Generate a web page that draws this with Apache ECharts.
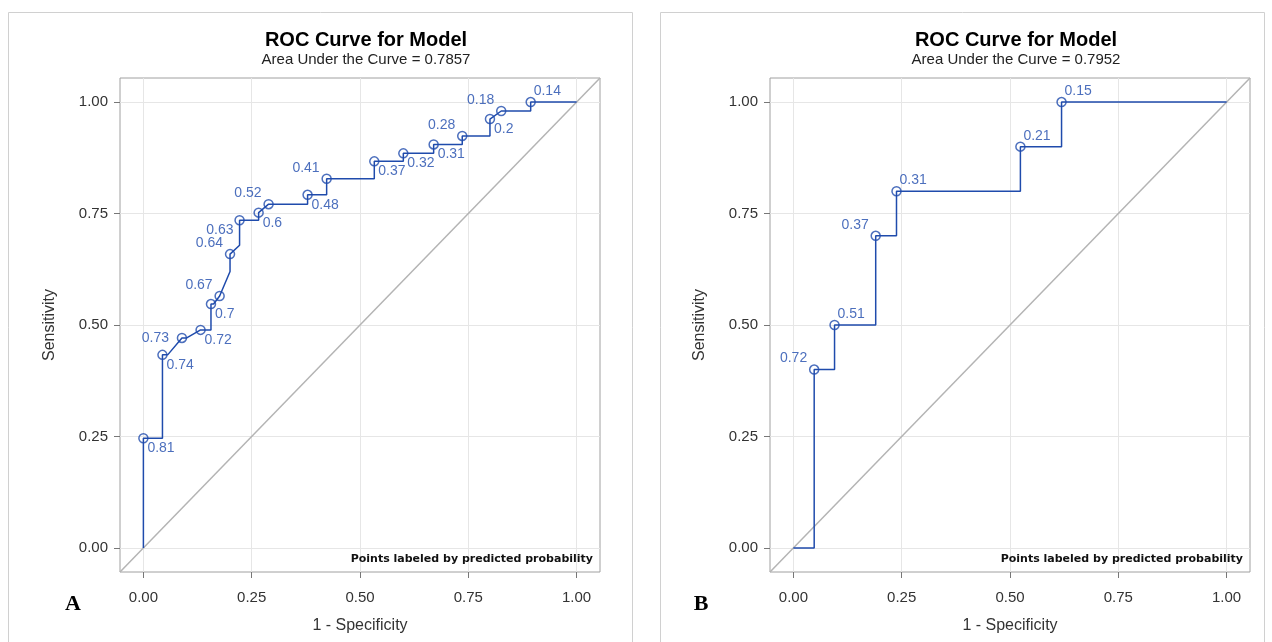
<!DOCTYPE html>
<html>
<head>
<meta charset="utf-8">
<title>ROC Curve for Model</title>
<script src="https://cdn.jsdelivr.net/npm/echarts@6/dist/echarts.min.js"></script>
<style>
  html, body { margin: 0; padding: 0; background: #fff; }
  #main { width: 1272px; height: 642px; }
</style>
</head>
<body>
<div id="main"></div>
<script>
// axis ticks, shared by both panels
const tickValues = [0, 0.25, 0.5, 0.75, 1];

// panel A : step curve vertices [1 - specificity, sensitivity]
const curveA = [
  [0, 0], [0, 0.246], [0.044, 0.246], [0.044, 0.433], [0.056, 0.433],
  [0.089, 0.471], [0.1, 0.471], [0.132, 0.489], [0.156, 0.489], [0.156, 0.547],
  [0.162, 0.547], [0.176, 0.565], [0.2, 0.62], [0.2, 0.659], [0.222, 0.679],
  [0.222, 0.735], [0.266, 0.735], [0.266, 0.752], [0.289, 0.771], [0.379, 0.771],
  [0.379, 0.792], [0.423, 0.792], [0.423, 0.828], [0.533, 0.828], [0.533, 0.867],
  [0.6, 0.867], [0.6, 0.885], [0.67, 0.885], [0.67, 0.905], [0.736, 0.905],
  [0.736, 0.924], [0.8, 0.924], [0.8, 0.962], [0.826, 0.98], [0.894, 0.98],
  [0.894, 1], [1, 1]
];
// panel A : labelled cutoffs
const fprA = [0, 0.044, 0.089, 0.132, 0.156, 0.176, 0.2, 0.222, 0.266, 0.289,
  0.379, 0.423, 0.533, 0.6, 0.67, 0.736, 0.8, 0.826, 0.894];
const sensA = [0.246, 0.433, 0.471, 0.489, 0.547, 0.565, 0.659, 0.735, 0.752, 0.771,
  0.792, 0.828, 0.867, 0.885, 0.905, 0.924, 0.962, 0.98, 1];
const probA = ['0.81', '0.74', '0.73', '0.72', '0.7', '0.67', '0.64', '0.63', '0.6', '0.52',
  '0.48', '0.41', '0.37', '0.32', '0.31', '0.28', '0.2', '0.18', '0.14'];
const sideA = ['br', 'br', 'l', 'br', 'br', 'tl', 'tl', 'bl', 'br', 'tl',
  'br', 'tl', 'br', 'br', 'br', 'tl', 'br', 'tl', 'tr'];
const aucA = '0.7857';

// panel B
const curveB = [
  [0, 0], [0.048, 0], [0.048, 0.4], [0.095, 0.4], [0.095, 0.5], [0.19, 0.5],
  [0.19, 0.7], [0.238, 0.7], [0.238, 0.8], [0.524, 0.8], [0.524, 0.9],
  [0.619, 0.9], [0.619, 1], [1, 1]
];
const fprB = [0.048, 0.095, 0.19, 0.238, 0.524, 0.619];
const sensB = [0.4, 0.5, 0.7, 0.8, 0.9, 1];
const probB = ['0.72', '0.51', '0.37', '0.31', '0.21', '0.15'];
const sideB = ['tl', 'tr', 'tl', 'tr', 'tr', 'tr'];
const aucB = '0.7952';

const axisMin = -0.054;
const axisMax = 1.054;

const blue = '#1f4bac';
const font = '"Liberation Sans", Arial, sans-serif';

// where each point label sits around its marker
const labelPlace = {
  br: { align: 'left', offset: [4, 10] },
  tr: { align: 'left', offset: [3, -11] },
  tl: { align: 'right', offset: [-7, -11] },
  bl: { align: 'right', offset: [-6, 10] },
  l: { align: 'right', offset: [-13, 0] }
};

const myChart = echarts.init(document.getElementById('main'));

function makeAxes(idx, isX) {
  return {
    type: 'value',
    gridIndex: idx,
    min: axisMin,
    max: axisMax,
    name: isX ? '1 - Specificity' : 'Sensitivity',
    nameLocation: 'middle',
    nameGap: isX ? 46 : 62,
    nameTextStyle: { fontFamily: font, fontSize: 16, color: '#333' },
    axisLine: { show: false, onZero: false },
    axisTick: { show: true, length: 6, customValues: tickValues, lineStyle: { color: '#777', width: 1 } },
    axisLabel: {
      customValues: tickValues,
      margin: isX ? 18 : 12,
      fontFamily: font,
      fontSize: 15,
      color: '#333',
      formatter: v => v.toFixed(2)
    },
    splitLine: { show: true, lineStyle: { color: '#e6e6e6', width: 1 } }
  };
}

function pointData(fpr, sens, prob, side) {
  return fpr.map((x, i) => ({
    value: [x, sens[i]],
    name: prob[i],
    label: labelPlace[side[i]]
  }));
}

function panelSeries(idx, curve, fpr, sens, prob, side) {
  return [
    {
      type: 'line',
      xAxisIndex: idx,
      yAxisIndex: idx,
      data: [[axisMin, axisMin], [axisMax, axisMax]],
      symbol: 'none',
      silent: true,
      lineStyle: { color: '#b4b4b4', width: 1.5 },
      z: 2
    },
    {
      type: 'line',
      xAxisIndex: idx,
      yAxisIndex: idx,
      data: curve,
      symbol: 'none',
      lineStyle: { color: blue, width: 1.5 },
      z: 3
    },
    {
      type: 'scatter',
      xAxisIndex: idx,
      yAxisIndex: idx,
      data: pointData(fpr, sens, prob, side),
      symbol: 'circle',
      symbolSize: 9,
      itemStyle: { color: 'rgba(255,255,255,0)', borderColor: blue, borderWidth: 1.5 },
      label: {
        show: true,
        position: 'inside',
        verticalAlign: 'middle',
        formatter: p => p.name,
        fontFamily: font,
        fontSize: 14,
        color: blue
      },
      z: 4
    }
  ];
}

function titleFor(cx, auc) {
  return {
    text: 'ROC Curve for Model',
    subtext: 'Area Under the Curve = ' + auc,
    left: cx,
    top: 25,
    textAlign: 'center',
    itemGap: 2,
    textStyle: { fontFamily: font, fontSize: 20, fontWeight: 'bold', color: '#000', lineHeight: 20 },
    subtextStyle: { fontFamily: font, fontSize: 15, color: '#222', lineHeight: 16 }
  };
}

function panelGraphics(x0, w, letter, letterX, plotRight) {
  return [
    {
      type: 'rect',
      shape: { x: x0 + 0.5, y: 12.5, width: w, height: 660 },
      style: { fill: 'none', stroke: '#d0d0d0', lineWidth: 1 },
      silent: true
    },
    {
      type: 'text',
      x: letterX,
      y: 604,
      style: {
        text: letter,
        font: 'bold 22px "Liberation Serif", "Times New Roman", serif',
        fill: '#000',
        align: 'center',
        verticalAlign: 'middle'
      }
    },
    {
      type: 'text',
      x: plotRight - 7,
      y: 559,
      z: 10,
      style: {
        text: 'Points labeled by predicted probability',
        font: 'bold 11px "DejaVu Sans", sans-serif',
        fill: '#111',
        align: 'right',
        verticalAlign: 'middle'
      }
    }
  ];
}

const option = {
  backgroundColor: '#fff',
  animation: false,
  title: [titleFor(361, aucA), titleFor(1011, aucB)],
  grid: [
    { left: 120, top: 78, width: 480, height: 494, show: true, borderColor: '#a0a0a0', borderWidth: 1, backgroundColor: 'transparent' },
    { left: 770, top: 78, width: 480, height: 494, show: true, borderColor: '#a0a0a0', borderWidth: 1, backgroundColor: 'transparent' }
  ],
  xAxis: [makeAxes(0, true), makeAxes(1, true)],
  yAxis: [makeAxes(0, false), makeAxes(1, false)],
  series: [
    ...panelSeries(0, curveA, fprA, sensA, probA, sideA),
    ...panelSeries(1, curveB, fprB, sensB, probB, sideB)
  ],
  graphic: [
    ...panelGraphics(8, 624, 'A', 73, 600),
    ...panelGraphics(660, 604, 'B', 701, 1250)
  ]
};

myChart.setOption(option);
window.addEventListener('resize', function () {
  myChart && myChart.resize();
});
</script>
</body>
</html>
